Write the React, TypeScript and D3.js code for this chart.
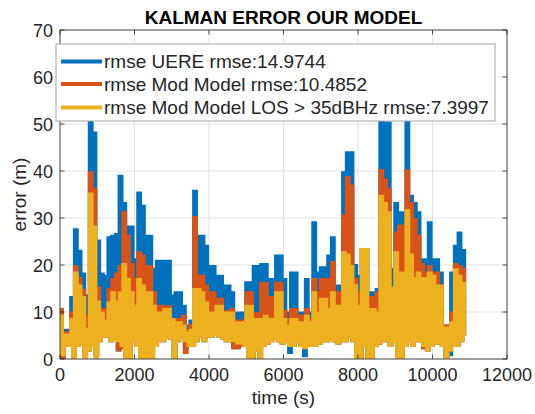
import React from "react";
import * as d3 from "d3";

// sample spacing of the logged errors (s)
const sampleStep = 100;

// upper envelope of each series per sample (m)
const uereHi = [
  10.4, 6, 6, 13, 27.4, 22.8, 18, 13.3, 56, 48, 25, 18, 17.5, 25.7, 26, 26.4, 38.8, 33, 28, 28,
  21, 35.2, 32.4, 26, 26, 19, 20.7, 20.7, 20.7, 20.7, 13.3, 14, 14, 11.1, 6.9, 8, 35.6, 26, 26, 23.9,
  19.6, 19.6, 17.5, 17.5, 15.4, 15.4, 14, 9.7, 9.7, 9.7, 16.1, 16.1, 19.6, 19.6, 20, 20, 16.8, 16.8, 21.8, 21.8,
  16.8, 9.7, 18.2, 18.2, 9.7, 9.7, 16.8, 9.7, 28.9, 18.2, 19.3, 19.3, 21.8, 25.7, 15.4, 15.4, 39.5, 43.8, 43.8, 19.8,
  17.5, 23.2, 23.2, 14, 14, 14.7, 55, 50.1, 50.1, 19, 33, 31, 31, 53, 34.5, 33, 31, 21, 21, 28.9,
  21, 21, 18.2, 6.9, 6.9, 18.2, 23.9, 26.7, 23,
];
const modHi = [
  10.4, 5.5, 5.5, 9.7, 19.5, 17, 14.5, 9, 39.5, 36, 15, 10.4, 10.4, 14.7, 16.8, 18, 19.6, 31, 26, 20,
  16.8, 22.5, 21.8, 19.6, 19.6, 14, 11.1, 11.1, 11, 11, 8.3, 8.3, 8.3, 9, 6, 7, 30, 17.5, 17.5, 15.4,
  14, 14, 12.6, 12.6, 10, 10, 10.4, 8, 8, 8, 14, 14, 9.5, 9.5, 16, 16, 13, 13, 16, 16,
  10, 8.3, 10.4, 10.4, 9, 9, 10.4, 8.3, 16.8, 14, 16.8, 16.8, 16.8, 20.4, 14, 14, 30.3, 38.5, 36.7, 16.8,
  14, 23.2, 23.2, 13, 13, 14, 40, 38, 36, 14, 26.7, 28.2, 28.2, 39.9, 33, 29.6, 26, 20, 18, 19.6,
  18.2, 18.2, 15.4, 6.9, 6.9, 9.7, 20, 19.6, 19,
];
const losHi = [
  9, 5, 5, 8.3, 18.2, 15.4, 13, 6.2, 35, 28, 12, 9.7, 8, 11.8, 14, 12, 14, 20, 16.8, 14,
  11.1, 16.8, 15.4, 14, 14, 11.1, 9.7, 9.7, 10.4, 10.4, 8.3, 7.6, 7.6, 6.9, 5.5, 6, 14.7, 14.7, 14, 11.8,
  9.7, 9.7, 11.1, 11.1, 9.7, 9.7, 9.7, 7.6, 7.6, 7.6, 11.1, 11.1, 8.3, 8.3, 8.3, 9, 8.3, 8.3, 14, 14,
  8.3, 6.9, 8.3, 8.3, 7.6, 7.6, 9, 7.6, 14, 9.7, 12.6, 12.6, 10.4, 14, 11.1, 11.1, 22.5, 22, 19.6, 15.5,
  11.1, 23.2, 23.2, 10.4, 10.4, 9.7, 34.5, 33, 31, 15, 22.5, 18.2, 18.2, 31.5, 22, 17, 18.2, 17, 17, 18.2,
  17.5, 15.4, 15.4, 6.5, 6.5, 7.6, 18.9, 17.5, 16,
];

// lower envelope of each series per sample (m)
const uereLo = [
  0, 3, 3, 0, 3, 3.5, 0, 2, 3, 1, 4, 5, 5, 4, 4.5, 2, 2.5, 0, 0, 4,
  3, 0, 0, 0, 0, 3, 4, 4, 5, 4.5, 0, 4, 5, 2.5, 3, 3, 4, 5, 4, 5,
  5, 5.5, 5, 4.5, 4, 4, 2.5, 2.5, 3, 3, 0, 0, 2, 0, 3, 3.5, 4, 4.5, 4, 3.5,
  4, 1.5, 3, 4, 3, 0.8, 3, 3, 3, 3.5, 4, 4, 4.5, 4, 3.5, 4, 4, 5, 4, 1.5,
  0, 3, 0, 0, 3, 3.5, 4, 4, 3, 4, 0, 0, 3, 4, 3, 4, 4, 2.5, 2, 3,
  3.5, 3.5, 3, 0, 1, 3, 3, 4, 5,
];
const modLo = [
  0, 3, 3, 0, 3, 3.5, 0, 2, 3, 1, 4, 5, 5, 4, 4.5, 2, 2.5, 0, 0, 4,
  3, 0, 0, 0, 0, 3, 4, 4, 5, 4.5, 0, 4, 5, 1.5, 3, 3, 4, 5, 4, 5,
  5, 5.5, 5, 4.5, 4, 4, 2.5, 2.5, 3, 3, 0, 0, 2, 0, 3, 3.5, 4, 4.5, 4, 3.5,
  4, 3, 3, 4, 3, 2.5, 3, 3, 3, 3.5, 4, 4, 4.5, 4, 3.5, 4, 4, 5, 4, 1.5,
  0, 3, 0, 0, 3, 3.5, 4, 4, 3, 4, 0, 0, 3, 4, 3, 4, 4, 2.5, 2, 3,
  3.5, 3.5, 3, 0, 2, 3, 3, 4, 5,
];
const losLo = [
  1, 3, 3, 0, 3, 3.5, 0, 2, 3, 0, 4, 5, 5, 4, 4.5, 4, 3, 0, 0, 4,
  3, 0, 0, 0, 0, 3, 4, 4, 5, 4.5, 0, 4, 5, 4, 3, 3, 4, 5, 4, 5,
  5, 5.5, 5, 4.5, 4, 4, 4, 3.5, 3.5, 3, 0, 0, 2, 0, 3, 3.5, 4, 4.5, 4, 3.5,
  4, 3, 3, 4, 3, 2.5, 3, 3, 3, 3.5, 4, 4, 4.5, 4, 3.5, 4, 4, 5, 4, 0,
  0, 3, 0, 0, 3, 3.5, 4, 4, 3, 4, 0, 0, 3, 4, 3, 4, 4, 3, 2, 3,
  3.5, 3.5, 3, 0, 2, 3, 3, 4, 5,
];

const seriesNames = [
  "rmse UERE rmse:14.9744",
  "rmse Mod Model rmse:10.4852",
  "rmse Mod Model LOS > 35dBHz rmse:7.3997",
];
const colors = ["#0072BD", "#D95319", "#EDB120"];
const xTicks = [0, 2000, 4000, 6000, 8000, 10000, 12000];
const yTicks = [0, 10, 20, 30, 40, 50, 60, 70];

const FONT = "'Liberation Sans', Arial, Helvetica, sans-serif";

export default function App() {
  const width = 535;
  const height = 414;
  const margin = { top: 30, right: 28, bottom: 55, left: 60 };
  const x = d3.scaleLinear().domain([0, 12000]).range([margin.left, width - margin.right]);
  const y = d3.scaleLinear().domain([0, 70]).range([height - margin.bottom, margin.top]);
  const [x0, x1] = x.range();
  const [y0, y1] = y.range();

  // each sample drawn as a jump between its upper and lower value
  const line = d3
    .line<[number, number]>()
    .x((d) => x(d[0]))
    .y((d) => y(d[1]))
    .curve(d3.curveStepAfter);

  const makePath = (hi: number[], lo: number[]) => {
    const pts: [number, number][] = [];
    hi.forEach((v, i) => {
      const t = i * sampleStep;
      pts.push([t, v]);
      pts.push([t + sampleStep / 2, lo[i]]);
    });
    return line(pts) || "";
  };

  const paths = [
    makePath(uereHi, uereLo),
    makePath(modHi, modLo),
    makePath(losHi, losLo),
  ];

  const tickLen = 4.5;
  const axisColor = "#262626";

  const legend = { x: 56, y: 44, w: 439, h: 77 };
  const rowY = [61.5, 84, 107.5];

  return (
    <svg
      width={width}
      height={height}
      style={{ position: "absolute", left: 0, top: 0, background: "#fff" }}
      fontFamily={FONT}
    >
      <defs>
        <clipPath id="plot-clip">
          <rect x={x0} y={y1} width={x1 - x0} height={y0 - y1} />
        </clipPath>
      </defs>
      <rect x={x0} y={y1} width={x1 - x0} height={y0 - y1} fill="#fff" />

      {/* grid */}
      <g stroke="#e3e3e3" strokeWidth={1}>
        {xTicks.map((t) => (
          <line key={"gx" + t} x1={x(t)} x2={x(t)} y1={y1} y2={y0} />
        ))}
        {yTicks.map((t) => (
          <line key={"gy" + t} x1={x0} x2={x1} y1={y(t)} y2={y(t)} />
        ))}
      </g>

      {/* series */}
      <g clipPath="url(#plot-clip)" fill="none" strokeWidth={4} strokeLinejoin="miter">
        {paths.map((d, i) => (
          <path key={i} d={d} stroke={colors[i]} />
        ))}
      </g>

      {/* box and ticks */}
      <g stroke={axisColor} strokeWidth={0.8} fill="none">
        <rect x={x0} y={y1} width={x1 - x0} height={y0 - y1} />
        {xTicks.map((t) => (
          <g key={"tx" + t}>
            <line x1={x(t)} x2={x(t)} y1={y0} y2={y0 - tickLen} />
            <line x1={x(t)} x2={x(t)} y1={y1} y2={y1 + tickLen} />
          </g>
        ))}
        {yTicks.map((t) => (
          <g key={"ty" + t}>
            <line x1={x0} x2={x0 + tickLen} y1={y(t)} y2={y(t)} />
            <line x1={x1} x2={x1 - tickLen} y1={y(t)} y2={y(t)} />
          </g>
        ))}
      </g>

      {/* tick labels */}
      <g fill={axisColor} fontSize={18}>
        {xTicks.map((t) => (
          <text key={"lx" + t} x={x(t)} y={y0 + 22} textAnchor="middle">
            {t}
          </text>
        ))}
        {yTicks.map((t) => (
          <text key={"ly" + t} x={x0 - 7} y={y(t) + 6.5} textAnchor="end">
            {t}
          </text>
        ))}
      </g>

      {/* axis labels and title */}
      <text x={(x0 + x1) / 2} y={404} textAnchor="middle" fontSize={19} fill={axisColor}>
        time (s)
      </text>
      <text
        transform={`translate(26,${(y0 + y1) / 2}) rotate(-90)`}
        textAnchor="middle"
        fontSize={19}
        fill={axisColor}
      >
        error (m)
      </text>
      <text x={(x0 + x1) / 2} y={24} textAnchor="middle" fontSize={19} fontWeight="bold" fill="#000">
        KALMAN ERROR OUR MODEL
      </text>

      {/* legend */}
      <g>
        <rect
          x={legend.x}
          y={legend.y}
          width={legend.w}
          height={legend.h}
          fill="#fff"
          stroke="#a6a6a6"
          strokeWidth={1}
        />
        {seriesNames.map((name, i) => (
          <g key={name}>
            <line
              x1={61}
              x2={102}
              y1={rowY[i]}
              y2={rowY[i]}
              stroke={colors[i]}
              strokeWidth={4}
            />
            <text x={104} y={rowY[i] + 6.5} fontSize={19} fill={axisColor}>
              {name}
            </text>
          </g>
        ))}
      </g>
    </svg>
  );
}
